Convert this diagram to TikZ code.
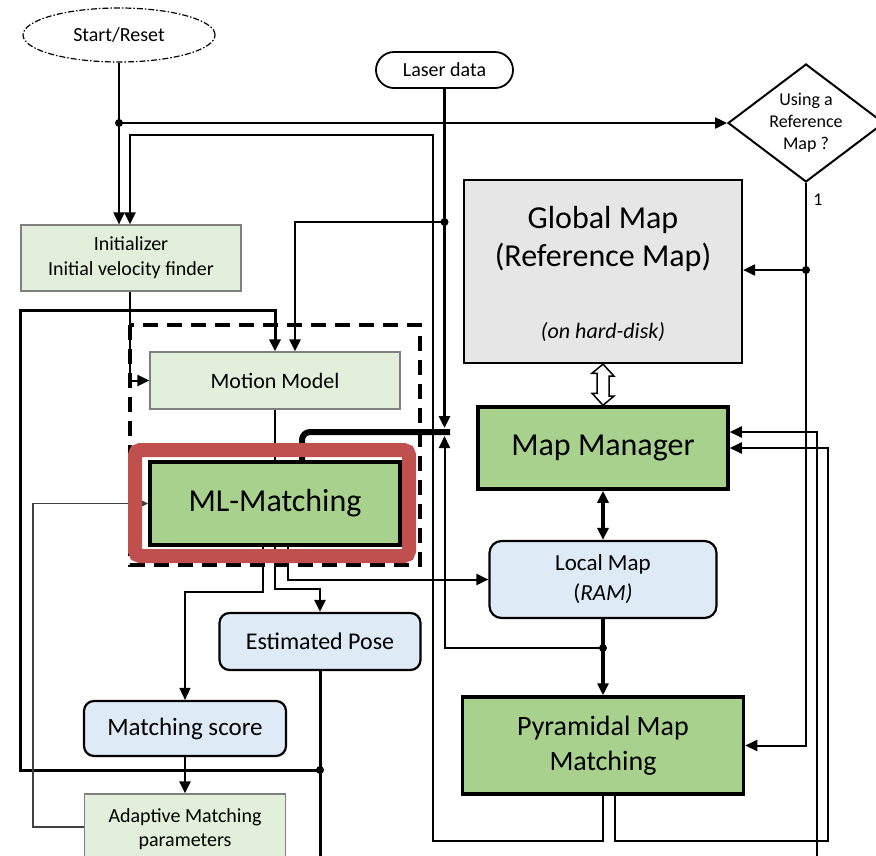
\documentclass[tikz,border=0pt]{standalone}
\usepackage{fontspec}
\setmainfont{Carlito}
\usetikzlibrary{arrows.meta,shapes.geometric}
\definecolor{lgreen}{HTML}{E2EFDA}
\definecolor{dgreen}{HTML}{A9D18E}
\definecolor{lblue}{HTML}{DEEBF7}
\definecolor{lgray}{HTML}{E7E6E6}
\definecolor{redb}{HTML}{C0504D}
\definecolor{bord}{HTML}{7F7F7F}
\pgfdeclarelayer{bg}\pgfdeclarelayer{mid}\pgfsetlayers{bg,mid,main}
\begin{document}
\begin{tikzpicture}[x=1pt,y=-1pt,
  ar/.style={-{Triangle[length=12pt,width=11pt]}},
  ln/.style={line width=2pt},
  fs/.style 2 args={font=\fontsize{#1}{#2}\selectfont},
  dotc/.style={circle,fill=black,inner sep=0pt,minimum size=8pt},
  lbox/.style={draw=bord,fill=lgreen,line width=1.2pt,inner sep=0pt,align=center},
  gbox/.style={draw,fill=dgreen,line width=3.5pt,inner sep=0pt,align=center},
  bbox/.style={draw,fill=lblue,line width=2.2pt,rounded corners=10pt,inner sep=0pt,align=center}]
\useasboundingbox (0,0) rectangle (876,855);

% ---------- nodes ----------
\node[ellipse,draw,dash pattern=on 6pt off 2pt on 1.5pt off 2pt,line width=1.2pt,
  minimum width=192pt,minimum height=54pt,inner sep=0pt,fs={20}{24}] (start) at (119,35) {Start/Reset};
\node[draw,rounded corners=18pt,line width=1.8pt,minimum width=137pt,minimum height=36pt,
  inner sep=0pt,fs={20}{24}] (laser) at (444.5,70) {Laser data};
\node[diamond,draw,line width=2pt,minimum width=156pt,minimum height=118pt,inner sep=0pt] (diam) at (806,123) {};
\node[align=center,fs={18}{22}] (diamt) at (806,123) {Using a\\Reference\\Map ?};
\node[fs={18}{22}] (one) at (818,200) {1};

\node[lbox,minimum width=220pt,minimum height=66pt,fs={20}{25}] (init) at (131,258) {Initializer\\Initial velocity finder};
\node[lbox,minimum width=250pt,minimum height=57pt,fs={22}{26}] (motion) at (275,380.5) {Motion Model};

\node[draw,fill=lgray,line width=2.2pt,minimum width=278pt,minimum height=183pt,inner sep=0pt] (global) at (603,271.5) {};
\node[anchor=base,fs={32}{38}] (g1) at (603,228) {Global Map};
\node[anchor=base,fs={32}{38}] (g2) at (603,266) {(Reference Map)};
\node[anchor=base,fs={22}{26}] (g3) at (603,338) {\itshape (on hard-disk)};

\node[gbox,minimum width=250pt,minimum height=82pt,fs={32}{38}] (mapm) at (603,448) {Map Manager};
\node[bbox,rounded corners=12pt,minimum width=227pt,minimum height=77pt,fs={23}{30}] (local) at (603,579.5) {Local Map\\(\textit{RAM)}};
\node[gbox,minimum width=281pt,minimum height=97pt,fs={28}{35}] (pyr) at (603,745.5) {Pyramidal Map\\Matching};

\node[bbox,minimum width=201pt,minimum height=57pt,fs={24}{28}] (est) at (320,641.5) {Estimated Pose};
\node[bbox,minimum width=202pt,minimum height=55pt,fs={25}{29}] (score) at (185,728.5) {Matching score};
\node[lbox,minimum width=201pt,minimum height=80pt] (adapt) at (185,834) {};
\node[align=center,fs={20}{24}] (adaptt) at (185,829) {Adaptive Matching\\parameters};

\node[gbox,minimum width=250pt,minimum height=83pt,fs={32}{38}] (ml) at (275,503.5) {ML-Matching};

% ---------- dashed group and red highlight ----------
\begin{pgfonlayer}{mid}
\draw[line width=4.5pt,dash pattern=on 15pt off 9pt] (130,325) rectangle (420,565);
\draw[redb,line width=14pt,rounded corners=5pt] (135,450) rectangle (409,556);
\end{pgfonlayer}

% ---------- connectors ----------
\begin{pgfonlayer}{bg}
\coordinate (j1) at (119,123);
\draw[ln] (start.south) -- (j1);
\draw[ln,ar] (j1) -- (j1 |- init.north);
\draw[line width=2.4pt,ar] (j1) -- (diam.west);
\node[dotc] (d1) at (j1) {};

% pyramidal -> initializer loop
\draw[line width=2.6pt,ar] (pyr.south) -- (603,841) -- (433,841) -- (433,135) -- (130,135) -- ([xshift=-1pt]init.north);
% initializer -> motion model
\draw[ln,ar] ([xshift=-1pt]init.south) |- (motion.west);

% laser data
\coordinate (j2) at (444.5,222);
\draw[line width=3.4pt,ar] (laser.south) -- (444.5,428);
\node[dotc] (d2) at (j2) {};
\draw[line width=2.4pt,ar] (j2) -| ([xshift=20pt]motion.north);

% estimated pose loop
\coordinate (j3) at (320,770);
\draw[line width=3pt] (est.south) -- (320,870);
\draw[line width=3pt,ar] (j3) -- (20,770) -- (20,310) -- (275,310) -- (motion.north);
\node[dotc] (d3) at (j3) {};

% motion -> ml
\draw[line width=1.6pt] (motion.south) -- (ml.north);
% thick ml -> right
\draw[line width=6pt,rounded corners=8pt] ([xshift=27pt]ml.north) |- (450,432);

% local/pyr junction back up
\coordinate (j4) at (603,648);
\draw[ln,ar] (j4) -| (444.5,436);
\draw[line width=3.4pt,ar] (local.south) -- (pyr.north);
\node[dotc] (d4) at (j4) {};

% map manager <-> local
\draw[line width=3.4pt,{Triangle[length=12pt,width=11pt]}-{Triangle[length=12pt,width=11pt]}] (mapm.south) -- (local.north);

% reference decision
\coordinate (j5) at (806,270);
\draw[ln,ar] (diam.south) |- (pyr.east);
\draw[ln,ar] (j5) -- (global.east |- j5);
\node[dotc] (d5) at (j5) {};

% into map manager from right
\draw[ln,ar] ([xshift=12pt]pyr.south) -- (615,841) -- (828,841) |- (mapm.east);
\draw[ln,ar] (817,870) |- ([yshift=16pt]mapm.east);

% ml outputs
\draw[line width=1.6pt,ar] ([xshift=-12pt]ml.south) -- (263,592) -| (score.north);
\draw[line width=2.4pt,ar] (ml.south) -- (275,589) -| (est.north);
\draw[ln,ar] ([xshift=13pt]ml.south) |- (local.west);
\draw[line width=2.4pt,ar] (score.south) -- (adapt.north);
\draw[line width=1.6pt,black!75,ar] ([yshift=7pt]adapt.west) -- (33,827) |- (ml.west);
\end{pgfonlayer}

% hollow double arrow between global map and map manager
\draw[line width=1.5pt,fill=white] (global.south) -- ++(11,12) -- ++(-5,0) -- ++(0,20) -- ++(5,0)
  -- (mapm.north) -- ++(-11,-12) -- ++(5,0) -- ++(0,-20) -- ++(-5,0) -- cycle;
\end{tikzpicture}
\end{document}
